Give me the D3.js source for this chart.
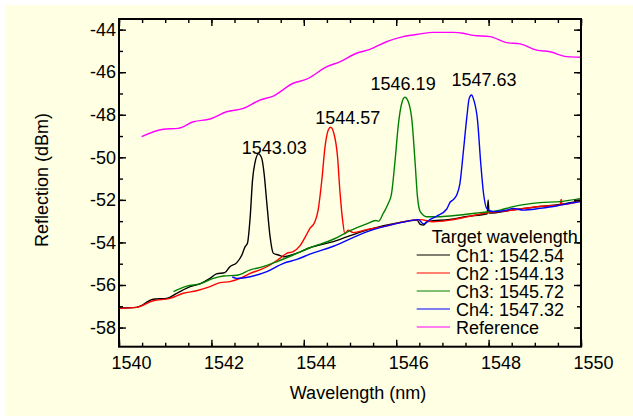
<!DOCTYPE html>
<html>
<head>
<meta charset="utf-8">
<script src="https://cdn.jsdelivr.net/npm/d3@7"></script>
<style>
  html, body { margin: 0; padding: 0; background: #fff; }
  svg { display: block; }
  text { font-family: "Liberation Sans", Arial, sans-serif; fill: #000; }
</style>
</head>
<body>
<svg id="chart" width="633" height="416"></svg>
<script>
// values: [wavelength nm, reflection dBm]
var ch1 = [[1540.00,-57.08],[1540.38,-57.05],[1540.74,-56.67],[1541.03,-56.63],[1541.25,-56.39],[1541.54,-56.08],
  [1541.75,-55.95],[1541.97,-55.69],[1542.11,-55.48],[1542.29,-55.42],[1542.40,-55.14],[1542.55,-54.95],[1542.66,-54.59],
  [1542.73,-54.20],[1542.78,-54.04],[1542.84,-52.79],[1542.89,-51.07],[1542.94,-50.28],[1543.02,-49.84],[1543.09,-50.05],
  [1543.14,-50.75],[1543.20,-52.16],[1543.27,-53.73],[1543.34,-54.51],[1543.45,-54.59],[1543.56,-54.67],[1543.85,-54.50],
  [1544.13,-54.25],[1544.64,-53.96],[1545.36,-53.42],[1546.08,-53.06],[1546.45,-52.95],[1546.52,-53.15],[1546.59,-53.18],
  [1546.68,-53.02],[1547.16,-52.92],[1547.53,-52.78],[1547.97,-52.65],[1547.99,-52.00],[1548.01,-52.62],[1548.53,-52.47],
  [1549.04,-52.33],[1549.55,-52.22],[1550.00,-52.04]]

var ch2 = [[1540.00,-57.10],[1540.38,-57.05],[1540.74,-56.74],[1541.10,-56.63],[1541.39,-56.39],[1541.68,-56.27],
  [1541.97,-56.08],[1542.19,-55.89],[1542.40,-55.84],[1542.62,-55.69],[1542.84,-55.45],[1543.05,-55.29],[1543.27,-55.06],
  [1543.48,-54.75],[1543.63,-54.51],[1543.77,-54.43],[1543.92,-54.15],[1544.03,-53.75],[1544.13,-53.35],[1544.24,-53.03],
  [1544.31,-52.48],[1544.39,-51.07],[1544.46,-49.50],[1544.53,-48.72],[1544.58,-48.59],[1544.65,-48.87],[1544.73,-49.97],
  [1544.78,-51.54],[1544.84,-52.95],[1544.89,-53.60],[1544.96,-53.42],[1545.07,-53.54],[1545.36,-53.40],[1545.72,-53.26],
  [1546.08,-53.07],[1546.52,-52.93],[1546.80,-53.03],[1547.16,-52.95],[1547.53,-52.80],[1547.89,-52.64],[1548.25,-52.55],
  [1548.53,-52.48],[1549.04,-52.32],[1549.55,-52.24],[1549.57,-51.97],[1549.59,-52.22],[1550.00,-52.04]]

var ch3 = [[1541.18,-56.31],[1541.47,-56.05],[1541.75,-55.95],[1542.04,-55.69],[1542.26,-55.58],[1542.55,-55.54],
  [1542.84,-55.29],[1543.12,-55.14],[1543.41,-54.91],[1543.77,-54.59],[1544.13,-54.25],[1544.64,-53.85],[1545.00,-53.45],
  [1545.36,-53.13],[1545.56,-52.97],[1545.62,-53.00],[1545.72,-52.63],[1545.83,-52.16],[1545.90,-51.69],[1545.97,-50.28],
  [1546.05,-48.40],[1546.12,-47.46],[1546.19,-47.18],[1546.26,-47.38],[1546.34,-48.25],[1546.41,-50.28],[1546.46,-51.85],
  [1546.52,-52.55],[1546.66,-52.79],[1546.95,-52.79],[1547.38,-52.71],[1547.81,-52.60],[1548.25,-52.48],[1548.53,-52.32],
  [1549.11,-52.13],[1549.55,-52.08],[1550.00,-51.93]]

var ch4 = [[1542.45,-55.62],[1542.55,-55.69],[1542.84,-55.61],[1543.20,-55.37],[1543.56,-54.98],[1543.85,-54.80],
  [1544.13,-54.55],[1544.64,-54.18],[1545.36,-53.50],[1546.08,-53.08],[1546.48,-52.93],[1546.59,-53.13],[1546.70,-52.97],
  [1546.88,-52.76],[1547.09,-52.44],[1547.17,-52.10],[1547.24,-51.98],[1547.31,-51.77],[1547.38,-51.22],[1547.45,-49.81],
  [1547.53,-48.09],[1547.58,-47.23],[1547.63,-47.07],[1547.68,-47.31],[1547.76,-48.25],[1547.83,-50.28],[1547.89,-51.69],
  [1547.96,-52.40],[1548.10,-52.55],[1548.39,-52.48],[1548.53,-52.40],[1548.75,-52.48],[1549.11,-52.40],[1549.47,-52.29],
  [1549.76,-52.16],[1550.00,-52.08]]

var reference = [[1540.49,-49.03],[1540.96,-48.68],[1541.28,-48.64],[1541.61,-48.33],[1541.97,-48.20],[1542.33,-47.86],
  [1542.69,-47.70],[1543.05,-47.31],[1543.34,-47.12],[1543.77,-46.52],[1544.06,-46.33],[1544.50,-45.74],[1544.78,-45.51],
  [1545.14,-45.11],[1545.43,-44.93],[1545.79,-44.57],[1546.15,-44.33],[1546.52,-44.20],[1546.80,-44.13],[1547.24,-44.13],
  [1547.45,-44.17],[1547.67,-44.27],[1548.03,-44.33],[1548.39,-44.61],[1548.68,-44.67],[1549.04,-44.96],[1549.33,-45.04],
  [1549.69,-45.27],[1550.00,-45.30]]

var seriesNames = ["Ch1: 1542.54", "Ch2 :1544.13", "Ch3: 1545.72", "Ch4: 1547.32", "Reference"]
var seriesColors = ["#000000", "#ff0000", "#008000", "#0000ff", "#ff00ff"]

// peak annotations, anchored in data units
var peakLabels = ["1543.03", "1544.57", "1546.19", "1547.63"]
var peakLabelWl = [1543.36, 1544.95, 1546.15, 1547.90]
var peakLabelDb = [-49.84, -48.43, -46.84, -46.65]

var xMajor = [1540, 1542, 1544, 1546, 1548, 1550]
var yMajor = [-58, -56, -54, -52, -50, -48, -46, -44]

var svg = d3.select("#chart")

// yellow page background, thin white strip left and top
svg.append("rect").attr("x", 6).attr("y", 5).attr("width", 627).attr("height", 411).attr("fill", "#ffffe3")

var x = d3.scaleLinear().domain([1540, 1550]).range([119, 581])
var y = d3.scaleLinear().domain([-58.9, -43.5]).range([346.7, 19])

var xMinor = d3.range(1540, 1550.01, 0.5)
var yMinor = d3.range(-58, -43.99, 1)

// plain hyphen minus like the original, not the unicode one
var plainFormat = function(d) { return String(d) }

svg.append("clipPath").attr("id", "plot").append("rect")
  .attr("x", 119).attr("y", 19).attr("width", 462).attr("height", 327.7)

var line = d3.line()
  .x(function(d) { return x(d[0]) })
  .y(function(d) { return y(d[1]) })
  .curve(d3.curveMonotoneX)

var allSeries = [ch1, ch2, ch3, ch4, reference]
var drawOrder = [4, 0, 1, 2, 3]

svg.append("g").attr("clip-path", "url(#plot)")
  .selectAll("path")
  .data(drawOrder)
  .enter().append("path")
  .attr("d", function(i) { return line(allSeries[i]) })
  .attr("fill", "none")
  .attr("stroke", function(i) { return seriesColors[i] })
  .attr("stroke-width", 1.4)

// ticks on all four sides, pointing inward
function styleAxis(g) {
  g.select(".domain").remove()
  g.selectAll("line").attr("stroke", "#000").attr("stroke-width", 1.4)
  g.selectAll("text").attr("font-size", 18).attr("font-family", "Liberation Sans, Arial, sans-serif")
}

svg.append("g").attr("transform", "translate(0,346.7)")
  .call(d3.axisBottom(x).tickValues(xMinor).tickSize(-4).tickFormat(""))
  .call(styleAxis)
svg.append("g").attr("transform", "translate(0,346.7)")
  .call(d3.axisBottom(x).tickValues(xMajor).tickSize(-7).tickPadding(9.5).tickFormat(plainFormat))
  .call(styleAxis)
  .selectAll("text").attr("dx", 12)

svg.append("g").attr("transform", "translate(0,19)")
  .call(d3.axisTop(x).tickValues(xMinor).tickSize(-4).tickFormat(""))
  .call(styleAxis)
svg.append("g").attr("transform", "translate(0,19)")
  .call(d3.axisTop(x).tickValues(xMajor).tickSize(-7).tickFormat(""))
  .call(styleAxis)

svg.append("g").attr("transform", "translate(119,0)")
  .call(d3.axisLeft(y).tickValues(yMinor).tickSize(-4).tickFormat(""))
  .call(styleAxis)
svg.append("g").attr("transform", "translate(119,0)")
  .call(d3.axisLeft(y).tickValues(yMajor).tickSize(-7).tickPadding(3).tickFormat(plainFormat))
  .call(styleAxis)

svg.append("g").attr("transform", "translate(581,0)")
  .call(d3.axisRight(y).tickValues(yMinor).tickSize(-4).tickFormat(""))
  .call(styleAxis)
svg.append("g").attr("transform", "translate(581,0)")
  .call(d3.axisRight(y).tickValues(yMajor).tickSize(-7).tickFormat(""))
  .call(styleAxis)

// frame
svg.append("rect").attr("x", 119).attr("y", 19).attr("width", 462).attr("height", 327.7)
  .attr("fill", "none").attr("stroke", "#000").attr("stroke-width", 2)

// axis titles
svg.append("text").attr("x", 358).attr("y", 399).attr("text-anchor", "middle")
  .attr("font-size", 18).text("Wavelength (nm)")
svg.append("text").attr("transform", "translate(48,180) rotate(-90)").attr("text-anchor", "middle")
  .attr("font-size", 18).text("Reflection (dBm)")

// peak labels
svg.selectAll(".peak")
  .data(peakLabels)
  .enter().append("text")
  .attr("class", "peak")
  .attr("x", function(d, i) { return x(peakLabelWl[i]) })
  .attr("y", function(d, i) { return y(peakLabelDb[i]) })
  .attr("text-anchor", "middle")
  .attr("font-size", 18)
  .text(function(d) { return d })

// legend
var legend = svg.append("g").attr("transform", "translate(416.7,255)")
legend.append("text").attr("x", 15).attr("y", -11.7).attr("font-size", 18).text("Target wavelength")

var item = legend.selectAll(".item")
  .data(seriesNames)
  .enter().append("g")
  .attr("class", "item")
  .attr("transform", function(d, i) { return "translate(0," + (i * 18) + ")" })

item.append("line")
  .attr("x1", 0).attr("x2", 33.3)
  .attr("stroke", function(d, i) { return seriesColors[i] })
  .attr("stroke-width", 1.2)

item.append("text")
  .attr("x", 39.3).attr("y", 6.7)
  .attr("font-size", 18)
  .text(function(d) { return d })
</script>
</body>
</html>
